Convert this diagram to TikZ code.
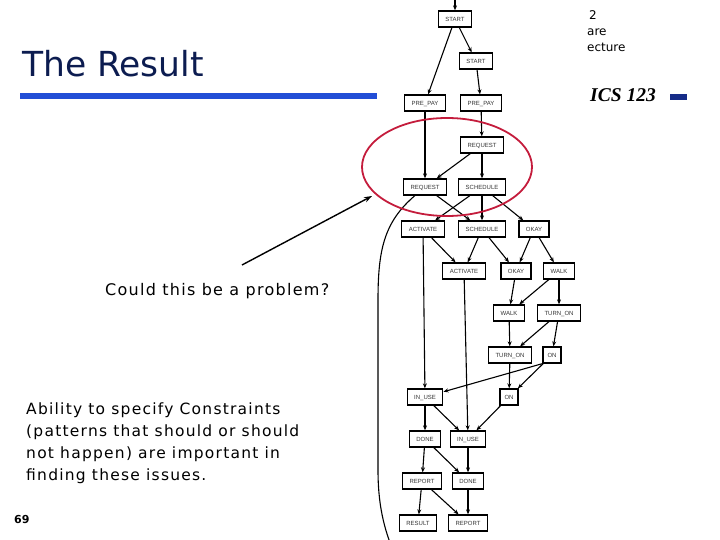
\documentclass[tikz,border=0pt]{standalone}
\usepackage{fontspec}
\setmainfont{DejaVu Sans}
\newfontfamily\spacedfont[LetterSpace=8]{DejaVu Sans}
\newfontfamily\graphfont{Liberation Sans}
\newfontfamily\coursefont{Liberation Serif}
\usepackage{tikz}
\usetikzlibrary{shapes.geometric, arrows.meta, positioning}

\definecolor{titlenavy}{RGB}{12,28,80}
\definecolor{barblue}{RGB}{34,78,214}
\definecolor{marknavy}{RGB}{22,44,136}
\definecolor{ringred}{RGB}{196,28,60}

\begin{document}
\begin{tikzpicture}[x=1pt, y=-1pt,
  evt/.style={rectangle, draw, line width=1.3pt, minimum height=16pt, inner ysep=0pt, inner xsep=7pt,
    text height=4.3pt, text depth=0pt, text=black!80, font=\graphfont\fontsize{6}{7}\selectfont},
  row/.style={below=24.7pt of #1},
  link/.style={-{Stealth[length=5pt,width=4pt]}, line width=1.1pt},
  pointer/.style={-{Stealth[length=8pt,width=5.5pt]}, line width=1.4pt}
]
  \useasboundingbox (0,0) rectangle (720,540);

  % slide header
  \node[anchor=base west, inner sep=0pt, text=titlenavy, font=\fontsize{34.5}{40}\selectfont] (title) at (22,77) {The Result};
  \fill[barblue] (20,93) rectangle (377,99);
  \fill[marknavy] (670,94) rectangle (687,100);
  \node[anchor=base west, inner sep=0pt, font=\coursefont\bfseries\itshape\fontsize{19.5}{22}\selectfont] (course) at (590,102) {ICS 123};
  \node[anchor=base west, inner sep=0pt, font=\fontsize{12}{16}\selectfont] (cut1) at (589,20) {2};
  \node[anchor=base west, inner sep=0pt, font=\fontsize{12}{16}\selectfont] (cut2) at (587,36) {are};
  \node[anchor=base west, inner sep=0pt, font=\fontsize{12}{16}\selectfont] (cut3) at (587,52) {ecture};

  % event graph
  \node[evt] (start1) at (455,19) {START};
  \node[evt, row=start1, xshift=21pt] (start2) {START};
  \node[evt, row=start2, xshift=-51pt] (prepay1) {PRE\_PAY};
  \node[evt, row=start2, xshift=5pt] (prepay2) {PRE\_PAY};
  \node[evt, row=prepay2, xshift=1pt] (request1) {REQUEST};
  \node[evt, row=request1, xshift=-57pt] (request2) {REQUEST};
  \node[evt, row=request1] (schedule1) {SCHEDULE};
  \node[evt, row=request2, xshift=-2pt] (activate1) {ACTIVATE};
  \node[evt, row=schedule1] (schedule2) {SCHEDULE};
  \node[evt, row=schedule1, xshift=52pt] (okay1) {OKAY};
  \node[evt, row=schedule2, xshift=-18pt] (activate2) {ACTIVATE};
  \node[evt, row=okay1, xshift=-18pt] (okay2) {OKAY};
  \node[evt, row=okay1, xshift=25pt] (walk1) {WALK};
  \node[evt, row=okay2, xshift=-7pt] (walk2) {WALK};
  \node[evt, row=walk1] (turnon1) {TURN\_ON};
  \node[evt, row=walk2, xshift=1pt] (turnon2) {TURN\_ON};
  \node[evt, row=turnon1, xshift=-7pt, inner xsep=4.5pt] (on1) {ON};
  \node[evt, row=turnon2, xshift=-85pt] (inuse1) {IN\_USE};
  \node[evt, row=turnon2, xshift=-1pt, inner xsep=4.5pt] (on2) {ON};
  \node[evt, row=inuse1] (done1) {DONE};
  \node[evt, row=inuse1, xshift=43pt] (inuse2) {IN\_USE};
  \node[evt, row=done1, xshift=-3pt] (report1) {REPORT};
  \node[evt, row=inuse2] (done2) {DONE};
  \node[evt, row=report1, xshift=-4pt] (result) {RESULT};
  \node[evt, row=done2] (report2) {REPORT};

  \coordinate (entry) at (455,-12);
  \coordinate (offpage) at (398,562);

  \draw[link] (entry) -- (start1);
  \draw[link] (start1) -- (prepay1);
  \draw[link] (start1) -- (start2);
  \draw[link] (start2) -- (prepay2);
  \draw[link] (prepay1) -- (request2);
  \draw[link] (prepay2) -- (request1);
  \draw[link] (request1) -- (request2);
  \draw[link] (request1) -- (schedule1);
  \draw[link] (request2) -- (schedule2);
  \draw[link] (request2) .. controls (384,222) and (378,250) .. (378,300) -- (378,470) .. controls (378,510) and (386,535) .. (offpage);
  \draw[link] (schedule1) -- (activate1);
  \draw[link] (schedule1) -- (schedule2);
  \draw[link] (schedule1) -- (okay1);
  \draw[link] (activate1) -- (activate2);
  \draw[link] (activate1) -- (inuse1);
  \draw[link] (schedule2) -- (activate2);
  \draw[link] (schedule2) -- (okay2);
  \draw[link] (okay1) -- (okay2);
  \draw[link] (okay1) -- (walk1);
  \draw[link] (activate2) -- (inuse2);
  \draw[link] (okay2) -- (walk2);
  \draw[link] (walk1) -- (walk2);
  \draw[link] (walk1) -- (turnon1);
  \draw[link] (walk2) -- (turnon2);
  \draw[link] (turnon1) -- (turnon2);
  \draw[link] (turnon1) -- (on1);
  \draw[link] (turnon2) -- (on2);
  \draw[link] (on1.south west) -- (inuse1);
  \draw[link] (on1) -- (on2);
  \draw[link] (inuse1) -- (done1);
  \draw[link] (inuse1) -- (inuse2);
  \draw[link] (on2) -- (inuse2);
  \draw[link] (done1) -- (report1);
  \draw[link] (done1) -- (done2);
  \draw[link] (inuse2) -- (done2);
  \draw[link] (report1) -- (result);
  \draw[link] (report1) -- (report2);
  \draw[link] (done2) -- (report2);

  % highlight and remarks
  \node[ellipse, draw=ringred, line width=1.8pt, minimum width=170pt, minimum height=98pt, inner sep=0pt] (ring) at (447,167) {};
  \coordinate (asktail) at (242,265);
  \coordinate (askhead) at (372,196);
  \draw[pointer] (asktail) -- (askhead);

  \node[anchor=base west, inner sep=0pt, font=\spacedfont\fontsize{16}{20}\selectfont] (ask) at (105,295) {Could this be a problem?};
  \node[anchor=north west, align=left, inner sep=0pt, font=\spacedfont\fontsize{15.5}{21.7}\selectfont] (note) at (26,403)
    {Ability to specify Constraints\\(patterns that should or should\\not happen) are important in\\finding these issues.};
  \node[anchor=base west, inner sep=0pt, font=\bfseries\fontsize{11}{12}\selectfont] (pageno) at (14,523) {69};
\end{tikzpicture}
\end{document}
